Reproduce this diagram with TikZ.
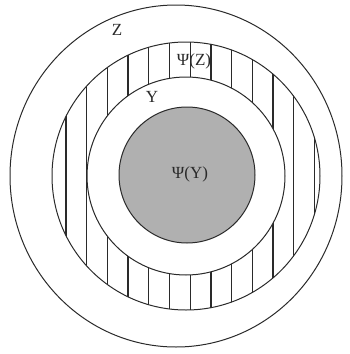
\documentclass[tikz,border=0pt]{standalone}
\usepackage{fontspec}
\setmainfont{Liberation Serif}
\usetikzlibrary{shapes.geometric}
\definecolor{ink}{HTML}{2A2A2A}
\definecolor{shade}{HTML}{B0B0B0}

\begin{document}
\begin{tikzpicture}[
  x=1pt, y=-1pt,
  ringline/.style={draw=ink, line width=1pt, inner sep=0pt},
  hatch/.style={draw=ink, line width=1.3pt},
  lbl/.style={font=\fontsize{17}{17}\selectfont, text=ink, inner sep=0pt},
]
\useasboundingbox (0,0) rectangle (349,354);
\node[ringline, ellipse, minimum width=332pt, minimum height=342pt] (outer) at (176,176) {};
% vertical hatching of the ring
\begin{scope}
  \clip (186,176) circle[radius=134pt];
  \foreach \x in {66,86.7,...,315}
    \draw[hatch] (\x,30) -- (\x,320);
\end{scope}
\node[ringline, circle, minimum size=268pt] (ring) at (186,176) {};
\node[ringline, circle, fill=white, minimum size=198pt] (inner) at (186,176) {};
\node[ringline, circle, fill=shade, minimum size=136pt] (core) at (187,175) {};
\node[lbl] (zlbl) at (117,30) {Z};
\node[lbl] (ylbl) at (152,97) {Y};
\node[lbl] (psiz) at (194,61) {Ψ(Z)};
\node[lbl] (psiy) at (190,174) {Ψ(Y)};
\end{tikzpicture}
\end{document}
